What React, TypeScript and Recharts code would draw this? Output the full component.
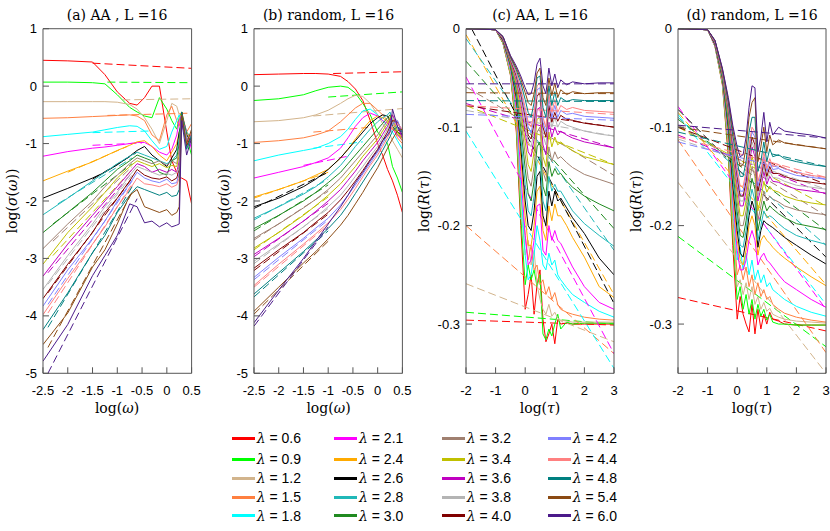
import React from "react";
import { LineChart, Line, XAxis, YAxis } from "recharts";

const LAMBDAS = ["0.6", "0.9", "1.2", "1.5", "1.8", "2.1", "2.4", "2.6", "2.8", "3.0", "3.2", "3.4", "3.6", "3.8", "4.0", "4.2", "4.4", "4.8", "5.4", "6.0"];
const COLORS = ["#ff0000", "#00ff00", "#d2b48c", "#ff8040", "#00ffff", "#ff00ff", "#ffaa00", "#000000", "#20b8b8", "#208a20", "#a08070", "#c0c000", "#c000c0", "#b4b4b4", "#800000", "#8080ff", "#ff8080", "#008080", "#8b4a13", "#4b1a8a"];

// log(omega) sample points for panels (a) and (b)
const GRID_W = [-2.5, -2, -1.5, -1.25, -1, -0.75, -0.6, -0.45, -0.3, -0.15, 0, 0.1, 0.2, 0.25, 0.3, 0.4, 0.5];
// log(tau) sample points for panels (c) and (d)
const GRID_T = [-2, -1, -0.75, -0.5, -0.3, -0.15, 0, 0.1, 0.2, 0.3, 0.4, 0.5, 0.6, 0.7, 0.8, 0.9, 1, 1.1, 1.2, 1.4, 1.6, 2, 2.5, 3];

const W_TICKS = [-2.5, -2, -1.5, -1, -0.5, 0, 0.5];
const SIGMA_TICKS = [-5, -4, -3, -2, -1, 0, 1];
const T_TICKS = [-2, -1, 0, 1, 2, 3];
const R_TICKS = [-0.3, -0.2, -0.1, 0];

// (a) AA: log(sigma) per lambda
const aSolid = [
  [0.45, 0.44, 0.42, 0.2, -0.1, -0.3, -0.33, -0.2, 0, 0, -0.8, -1.3, -1.5, -1.6, -1.6, -1.65, -2.05],
  [0.07, 0.07, 0.06, 0.04, -0.15, -0.37, -0.45, -0.52, -0.55, -0.2, -0.4, -0.6, -0.75, -0.55, -0.45, -0.9, -1.2],
  [-0.27, -0.27, -0.27, -0.27, -0.28, -0.32, -0.4, -0.55, -0.75, -1.0, -0.6, -0.3, -0.35, -0.5, -0.7, -0.9, -1.0],
  [-0.56, -0.55, -0.53, -0.52, -0.51, -0.5, -0.52, -0.6, -0.85, -0.95, -0.5, -0.35, -0.6, -0.7, -0.45, -0.8, -0.65],
  [-0.88, -0.84, -0.8, -0.76, -0.72, -0.69, -0.7, -0.78, -0.95, -1.1, -1.05, -0.8, -0.6, -0.5, -0.6, -0.9, -1.05],
  [-1.22, -1.14, -1.08, -1.06, -1.03, -1.0, -0.98, -0.98, -1.05, -1.15, -1.2, -1.1, -0.85, -0.6, -0.5, -0.8, -1.1],
  [-1.65, -1.48, -1.32, -1.22, -1.12, -1.03, -0.97, -0.95, -1.05, -1.2, -1.3, -1.15, -1.0, -0.8, -0.7, -0.8, -0.95],
  [-1.95, -1.78, -1.6, -1.5, -1.37, -1.22, -1.12, -1.05, -1.2, -1.3, -1.4, -1.25, -1.1, -0.8, -0.6, -0.85, -1.0],
  [-2.24, -1.95, -1.65, -1.5, -1.35, -1.22, -1.15, -1.2, -1.25, -1.3, -1.35, -1.3, -1.2, -0.9, -0.5, -0.8, -0.9],
  [-2.55, -2.2, -1.85, -1.65, -1.45, -1.3, -1.2, -1.25, -1.3, -1.5, -1.55, -1.3, -1.25, -1.0, -0.45, -0.85, -0.95],
  [-2.83, -2.4, -2.0, -1.75, -1.55, -1.35, -1.25, -1.3, -1.35, -1.3, -1.38, -1.3, -1.35, -1.1, -0.5, -0.9, -1.0],
  [-3.1, -2.55, -2.1, -1.85, -1.6, -1.4, -1.3, -1.35, -1.4, -1.35, -1.42, -1.38, -1.4, -1.2, -0.55, -1.0, -0.95],
  [-3.31, -2.75, -2.25, -2.0, -1.75, -1.5, -1.35, -1.4, -1.5, -1.45, -1.5, -1.45, -1.5, -1.3, -0.5, -0.95, -0.9],
  [-3.54, -2.95, -2.4, -2.1, -1.85, -1.55, -1.4, -1.45, -1.5, -1.55, -1.52, -1.55, -1.5, -1.4, -0.55, -0.9, -0.85],
  [-3.7, -3.1, -2.55, -2.2, -1.95, -1.65, -1.45, -1.55, -1.6, -1.62, -1.58, -1.65, -1.6, -1.45, -0.45, -1.05, -0.8],
  [-3.83, -3.2, -2.65, -2.35, -2.0, -1.7, -1.5, -1.6, -1.65, -1.68, -1.62, -1.7, -1.68, -1.5, -0.5, -0.95, -0.85],
  [-3.98, -3.35, -2.75, -2.45, -2.1, -1.8, -1.6, -1.7, -1.72, -1.75, -1.7, -1.76, -1.72, -1.6, -0.55, -1.0, -0.8],
  [-4.24, -3.6, -2.9, -2.6, -2.2, -1.9, -1.75, -1.8, -1.85, -1.9, -1.85, -1.92, -1.9, -1.8, -0.45, -1.1, -0.85],
  [-4.5, -3.95, -3.15, -2.85, -2.4, -1.9, -1.8, -2.1, -2.15, -2.2, -2.15, -2.25, -2.2, -2.1, -0.5, -1.0, -0.75],
  [-4.79, -4.15, -3.3, -2.95, -2.6, -2.05, -2.1, -2.38, -2.35, -2.45, -2.38, -2.45, -2.42, -2.4, -0.6, -1.2, -0.9],
];

// (a) fits: x0, y0, x1, y1
const aFit = [
  [-1.5, 0.4, 0.5, 0.31], [-1.2, 0.07, 0.5, 0.06], [-0.9, -0.24, 0.5, -0.22], [-1.2, -0.51, 0.5, -0.47],
  [-1.5, -0.81, -0.3, -0.78], [-1.5, -1.03, -0.5, -0.99], [-2.0, -1.5, -0.8, -1.05], [-1.5, -1.62, -0.6, -1.15],
  [-2.2, -2.05, -0.7, -1.25], [-2.3, -2.4, -0.7, -1.35], [-2.3, -2.7, -0.7, -1.4], [-2.3, -2.95, -0.7, -1.45],
  [-2.4, -3.25, -0.7, -1.5], [-2.4, -3.45, -0.7, -1.55], [-2.4, -3.6, -0.7, -1.6], [-2.4, -3.8, -0.7, -1.65],
  [-2.4, -3.95, -0.7, -1.7], [-2.4, -4.2, -0.7, -1.75], [-2.4, -4.55, -0.7, -1.85], [-2.4, -5.0, -0.6, -1.96],
];

// (b) random: log(sigma) per lambda
const bSolid = [
  [0.2, 0.21, 0.22, 0.22, 0.21, 0.17, 0.08, -0.05, -0.25, -0.6, -1.0, -1.2, -1.45, -1.55, -1.65, -1.9, -2.2],
  [-0.25, -0.22, -0.15, -0.08, -0.02, 0, -0.02, -0.12, -0.3, -0.5, -0.8, -0.9, -1.0, -1.2, -1.4, -1.6, -1.85],
  [-0.62, -0.6, -0.55, -0.5, -0.42, -0.3, -0.22, -0.16, -0.18, -0.3, -0.5, -0.65, -0.8, -0.85, -0.95, -1.1, -1.25],
  [-0.98, -0.95, -0.9, -0.85, -0.78, -0.62, -0.5, -0.38, -0.3, -0.3, -0.42, -0.5, -0.6, -0.65, -0.7, -0.9, -1.0],
  [-1.3, -1.2, -1.12, -1.08, -1.0, -0.88, -0.75, -0.58, -0.43, -0.4, -0.5, -0.6, -0.7, -0.75, -0.8, -0.95, -1.1],
  [-1.6, -1.5, -1.4, -1.33, -1.25, -1.08, -0.9, -0.7, -0.55, -0.47, -0.52, -0.6, -0.65, -0.7, -0.75, -0.85, -0.95],
  [-1.93, -1.8, -1.65, -1.55, -1.45, -1.25, -1.1, -0.92, -0.75, -0.6, -0.52, -0.55, -0.62, -0.7, -0.75, -0.8, -0.9],
  [-2.1, -1.95, -1.75, -1.62, -1.45, -1.25, -1.1, -0.95, -0.8, -0.65, -0.55, -0.5, -0.52, -0.6, -0.7, -0.8, -0.85],
  [-2.3, -2.1, -1.88, -1.75, -1.58, -1.38, -1.22, -1.05, -0.9, -0.75, -0.62, -0.55, -0.5, -0.45, -0.6, -0.75, -0.8],
  [-2.48, -2.25, -2.0, -1.85, -1.68, -1.5, -1.35, -1.2, -1.05, -0.9, -0.75, -0.65, -0.55, -0.5, -0.7, -0.8, -0.85],
  [-2.65, -2.4, -2.12, -1.97, -1.8, -1.6, -1.45, -1.3, -1.15, -1.0, -0.85, -0.72, -0.6, -0.55, -0.6, -0.85, -0.9],
  [-2.82, -2.55, -2.25, -2.08, -1.9, -1.7, -1.55, -1.4, -1.22, -1.07, -0.92, -0.78, -0.65, -0.55, -0.5, -0.8, -0.95],
  [-2.93, -2.65, -2.35, -2.18, -2.0, -1.8, -1.64, -1.48, -1.3, -1.14, -0.98, -0.84, -0.7, -0.6, -0.5, -0.7, -0.9],
  [-3.05, -2.75, -2.45, -2.28, -2.1, -1.9, -1.74, -1.57, -1.4, -1.22, -1.05, -0.9, -0.75, -0.65, -0.55, -0.6, -0.85],
  [-3.17, -2.85, -2.55, -2.37, -2.2, -1.98, -1.82, -1.65, -1.47, -1.28, -1.1, -0.95, -0.8, -0.7, -0.6, -0.62, -0.8],
  [-3.33, -2.98, -2.65, -2.47, -2.3, -2.07, -1.9, -1.72, -1.53, -1.34, -1.15, -1.0, -0.85, -0.75, -0.65, -0.6, -0.8],
  [-3.47, -3.1, -2.75, -2.57, -2.38, -2.15, -1.97, -1.78, -1.58, -1.38, -1.2, -1.05, -0.9, -0.8, -0.7, -0.65, -0.75],
  [-3.62, -3.25, -2.88, -2.68, -2.48, -2.25, -2.07, -1.87, -1.67, -1.47, -1.28, -1.12, -0.96, -0.88, -0.78, -0.7, -0.8],
  [-3.92, -3.5, -3.08, -2.88, -2.66, -2.42, -2.25, -2.05, -1.85, -1.63, -1.42, -1.25, -1.08, -1.0, -0.92, -0.78, -0.75],
  [-4.12, -3.55, -3.0, -2.7, -2.4, -2.1, -1.9, -1.68, -1.5, -1.3, -1.12, -0.95, -0.85, -0.8, -0.4, -0.7, -0.85],
];

const bFit = [
  [-0.9, 0.22, 0.5, 0.25], [-1.0, -0.19, 0.5, -0.1], [-1.3, -0.52, 0.5, -0.39], [-1.3, -0.8, -0.2, -0.72],
  [-1.3, -1.08, -0.3, -0.97], [-1.5, -1.38, -0.6, -1.22], [-2.5, -1.95, -1.0, -1.5], [-2.5, -2.13, -1.0, -1.5],
  [-2.5, -2.33, -1.0, -1.62], [-2.5, -2.52, -1.0, -1.72], [-2.5, -2.68, -1.0, -1.83], [-2.5, -2.85, -1.0, -1.93],
  [-2.5, -2.97, -1.0, -2.04], [-2.5, -3.09, -1.0, -2.13], [-2.5, -3.21, -1.0, -2.23], [-2.5, -3.37, -1.0, -2.33],
  [-2.5, -3.5, -1.0, -2.42], [-2.5, -3.67, -1.0, -2.52], [-2.5, -3.97, -1.0, -2.7], [-2.5, -4.18, -1.0, -2.45],
];

// (c) AA: log R(tau) per lambda
const cSolid = [
  [0, -0.001, -0.015, -0.047, -0.105, -0.2, -0.285, -0.27, -0.25, -0.29, -0.26, -0.245, -0.295, -0.318, -0.31, -0.3, -0.32, -0.295, -0.3, -0.299, -0.3, -0.3, -0.3, -0.3],
  [0, -0.001, -0.015, -0.046, -0.1, -0.19, -0.26, -0.24, -0.255, -0.245, -0.262, -0.25, -0.31, -0.316, -0.305, -0.312, -0.3, -0.29, -0.305, -0.298, -0.3, -0.299, -0.299, -0.299],
  [0, -0.001, -0.014, -0.045, -0.095, -0.18, -0.23, -0.215, -0.24, -0.225, -0.26, -0.275, -0.285, -0.29, -0.28, -0.292, -0.288, -0.294, -0.296, -0.297, -0.298, -0.298, -0.298, -0.298],
  [0, -0.001, -0.014, -0.044, -0.09, -0.17, -0.21, -0.235, -0.22, -0.245, -0.24, -0.26, -0.255, -0.27, -0.262, -0.275, -0.268, -0.28, -0.285, -0.288, -0.29, -0.293, -0.295, -0.296],
  [0, -0.001, -0.013, -0.042, -0.085, -0.16, -0.23, -0.255, -0.25, -0.23, -0.2, -0.215, -0.24, -0.245, -0.228, -0.24, -0.235, -0.25, -0.255, -0.263, -0.27, -0.278, -0.287, -0.293],
  [0, -0.001, -0.013, -0.04, -0.08, -0.145, -0.21, -0.24, -0.235, -0.215, -0.18, -0.178, -0.225, -0.23, -0.2, -0.215, -0.205, -0.215, -0.218, -0.23, -0.242, -0.262, -0.278, -0.285],
  [0, -0.001, -0.012, -0.038, -0.075, -0.13, -0.19, -0.22, -0.22, -0.2, -0.165, -0.16, -0.205, -0.215, -0.18, -0.195, -0.178, -0.19, -0.19, -0.2, -0.212, -0.232, -0.262, -0.273],
  [0, -0.001, -0.012, -0.037, -0.07, -0.12, -0.175, -0.2, -0.205, -0.185, -0.15, -0.145, -0.19, -0.2, -0.165, -0.18, -0.165, -0.175, -0.172, -0.182, -0.192, -0.208, -0.233, -0.25],
  [0, -0.001, -0.011, -0.036, -0.066, -0.11, -0.158, -0.185, -0.19, -0.17, -0.135, -0.13, -0.175, -0.185, -0.15, -0.165, -0.158, -0.165, -0.165, -0.175, -0.185, -0.198, -0.21, -0.221],
  [0, -0.001, -0.011, -0.035, -0.062, -0.1, -0.142, -0.168, -0.175, -0.155, -0.12, -0.115, -0.16, -0.17, -0.135, -0.15, -0.142, -0.148, -0.147, -0.155, -0.161, -0.17, -0.178, -0.185],
  [0, -0.001, -0.01, -0.034, -0.058, -0.09, -0.128, -0.152, -0.16, -0.14, -0.105, -0.1, -0.145, -0.155, -0.12, -0.135, -0.125, -0.132, -0.13, -0.136, -0.141, -0.148, -0.153, -0.158],
  [0, -0.001, -0.01, -0.033, -0.055, -0.082, -0.115, -0.138, -0.145, -0.125, -0.092, -0.09, -0.13, -0.14, -0.105, -0.12, -0.11, -0.118, -0.115, -0.12, -0.124, -0.13, -0.134, -0.138],
  [0, -0.001, -0.01, -0.032, -0.052, -0.075, -0.105, -0.125, -0.13, -0.112, -0.082, -0.08, -0.118, -0.128, -0.095, -0.11, -0.1, -0.108, -0.104, -0.108, -0.111, -0.115, -0.118, -0.121],
  [0, -0.001, -0.009, -0.031, -0.05, -0.07, -0.097, -0.115, -0.12, -0.104, -0.075, -0.072, -0.108, -0.118, -0.085, -0.1, -0.09, -0.1, -0.094, -0.098, -0.1, -0.104, -0.107, -0.109],
  [0, -0.001, -0.009, -0.031, -0.048, -0.066, -0.09, -0.108, -0.112, -0.096, -0.068, -0.066, -0.1, -0.11, -0.078, -0.095, -0.085, -0.094, -0.088, -0.092, -0.093, -0.096, -0.098, -0.1],
  [0, -0.001, -0.009, -0.03, -0.046, -0.063, -0.085, -0.1, -0.106, -0.09, -0.062, -0.06, -0.095, -0.105, -0.07, -0.09, -0.078, -0.09, -0.083, -0.087, -0.086, -0.089, -0.09, -0.091],
  [0, -0.001, -0.009, -0.03, -0.045, -0.06, -0.08, -0.095, -0.1, -0.085, -0.058, -0.055, -0.09, -0.1, -0.066, -0.085, -0.072, -0.085, -0.078, -0.082, -0.08, -0.083, -0.084, -0.085],
  [0, -0.001, -0.008, -0.029, -0.042, -0.055, -0.072, -0.085, -0.09, -0.075, -0.05, -0.048, -0.08, -0.09, -0.058, -0.078, -0.064, -0.078, -0.07, -0.074, -0.072, -0.073, -0.073, -0.073],
  [0, -0.001, -0.008, -0.028, -0.04, -0.051, -0.065, -0.075, -0.078, -0.066, -0.045, -0.04, -0.07, -0.078, -0.05, -0.068, -0.055, -0.07, -0.062, -0.067, -0.064, -0.066, -0.065, -0.065],
  [0, -0.001, -0.008, -0.027, -0.038, -0.048, -0.06, -0.067, -0.066, -0.055, -0.036, -0.03, -0.058, -0.066, -0.04, -0.058, -0.046, -0.06, -0.052, -0.057, -0.054, -0.056, -0.055, -0.055],
];

// (c) fits: value at log(tau) = -2 and at 3
const cFit = [
  [-0.296, -0.301], [-0.288, -0.3], [-0.259, -0.318], [-0.2, -0.33], [-0.104, -0.345], [-0.049, -0.33], [-0.006, -0.27],
  [0.011, -0.279], [-0.01, -0.225], [-0.033, -0.203], [-0.059, -0.149], [-0.078, -0.138], [-0.076, -0.121], [-0.083, -0.109],
  [-0.078, -0.1], [-0.087, -0.093], [-0.078, -0.087], [-0.073, -0.074], [-0.065, -0.066], [-0.056, -0.056],
];

// (d) random: log R(tau) per lambda
const dSolid = [
  [0, -0.001, -0.018, -0.057, -0.13, -0.22, -0.295, -0.272, -0.29, -0.3, -0.308, -0.28, -0.31, -0.285, -0.305, -0.29, -0.3, -0.288, -0.295, -0.297, -0.3, -0.301, -0.301, -0.301],
  [0, -0.001, -0.018, -0.056, -0.125, -0.21, -0.275, -0.262, -0.285, -0.27, -0.29, -0.275, -0.295, -0.28, -0.292, -0.285, -0.296, -0.29, -0.298, -0.3, -0.3, -0.301, -0.301, -0.301],
  [0, -0.001, -0.018, -0.055, -0.12, -0.2, -0.262, -0.255, -0.27, -0.258, -0.275, -0.262, -0.28, -0.272, -0.285, -0.278, -0.287, -0.284, -0.29, -0.293, -0.295, -0.297, -0.298, -0.299],
  [0, -0.001, -0.017, -0.054, -0.116, -0.19, -0.25, -0.24, -0.255, -0.242, -0.262, -0.25, -0.27, -0.258, -0.272, -0.265, -0.275, -0.272, -0.28, -0.285, -0.289, -0.293, -0.296, -0.298],
  [0, -0.001, -0.017, -0.053, -0.112, -0.18, -0.235, -0.222, -0.245, -0.228, -0.25, -0.235, -0.255, -0.245, -0.258, -0.25, -0.262, -0.258, -0.265, -0.27, -0.275, -0.282, -0.288, -0.292],
  [0, -0.001, -0.017, -0.052, -0.108, -0.172, -0.225, -0.245, -0.245, -0.235, -0.215, -0.205, -0.215, -0.24, -0.232, -0.228, -0.235, -0.238, -0.242, -0.25, -0.257, -0.265, -0.275, -0.283],
  [0, -0.001, -0.016, -0.051, -0.104, -0.165, -0.215, -0.235, -0.24, -0.225, -0.2, -0.19, -0.2, -0.23, -0.215, -0.21, -0.215, -0.218, -0.222, -0.228, -0.233, -0.242, -0.252, -0.261],
  [0, -0.001, -0.016, -0.05, -0.1, -0.158, -0.205, -0.228, -0.232, -0.215, -0.19, -0.175, -0.185, -0.222, -0.205, -0.195, -0.198, -0.2, -0.202, -0.207, -0.212, -0.22, -0.23, -0.239],
  [0, -0.001, -0.015, -0.049, -0.096, -0.15, -0.195, -0.22, -0.222, -0.205, -0.18, -0.163, -0.175, -0.215, -0.2, -0.185, -0.192, -0.19, -0.192, -0.198, -0.203, -0.21, -0.215, -0.219],
  [0, -0.001, -0.015, -0.048, -0.092, -0.142, -0.186, -0.21, -0.212, -0.195, -0.17, -0.152, -0.163, -0.205, -0.19, -0.175, -0.185, -0.18, -0.183, -0.188, -0.192, -0.198, -0.201, -0.204],
  [0, -0.001, -0.014, -0.047, -0.089, -0.136, -0.176, -0.2, -0.2, -0.185, -0.158, -0.14, -0.15, -0.195, -0.18, -0.165, -0.175, -0.17, -0.173, -0.176, -0.18, -0.184, -0.187, -0.189],
  [0, -0.001, -0.014, -0.046, -0.086, -0.13, -0.168, -0.19, -0.19, -0.175, -0.148, -0.13, -0.14, -0.185, -0.172, -0.155, -0.166, -0.16, -0.164, -0.166, -0.17, -0.174, -0.177, -0.179],
  [0, -0.001, -0.014, -0.045, -0.083, -0.125, -0.16, -0.18, -0.18, -0.165, -0.138, -0.12, -0.13, -0.175, -0.162, -0.145, -0.158, -0.15, -0.155, -0.156, -0.159, -0.163, -0.165, -0.167],
  [0, -0.001, -0.013, -0.044, -0.081, -0.121, -0.155, -0.175, -0.175, -0.16, -0.133, -0.115, -0.124, -0.17, -0.157, -0.14, -0.154, -0.145, -0.151, -0.152, -0.155, -0.159, -0.161, -0.163],
  [0, -0.001, -0.013, -0.044, -0.08, -0.118, -0.15, -0.17, -0.17, -0.155, -0.128, -0.11, -0.118, -0.165, -0.152, -0.135, -0.15, -0.14, -0.147, -0.147, -0.15, -0.154, -0.156, -0.158],
  [0, -0.001, -0.013, -0.043, -0.078, -0.115, -0.146, -0.165, -0.165, -0.15, -0.122, -0.105, -0.11, -0.16, -0.148, -0.13, -0.145, -0.136, -0.143, -0.142, -0.145, -0.149, -0.151, -0.153],
  [0, -0.001, -0.013, -0.043, -0.077, -0.112, -0.142, -0.16, -0.16, -0.145, -0.118, -0.1, -0.105, -0.155, -0.145, -0.125, -0.142, -0.132, -0.14, -0.138, -0.142, -0.146, -0.149, -0.151],
  [0, -0.001, -0.012, -0.042, -0.075, -0.108, -0.135, -0.15, -0.15, -0.135, -0.105, -0.09, -0.09, -0.145, -0.135, -0.115, -0.135, -0.122, -0.13, -0.128, -0.132, -0.135, -0.138, -0.14],
  [0, -0.001, -0.012, -0.041, -0.072, -0.102, -0.127, -0.14, -0.138, -0.12, -0.09, -0.075, -0.07, -0.135, -0.12, -0.1, -0.125, -0.108, -0.118, -0.113, -0.116, -0.118, -0.12, -0.122],
  [0, -0.001, -0.012, -0.04, -0.07, -0.098, -0.12, -0.13, -0.128, -0.11, -0.08, -0.058, -0.06, -0.125, -0.11, -0.085, -0.115, -0.095, -0.108, -0.1, -0.104, -0.106, -0.108, -0.111],
];

const dFit = [
  [-0.273, -0.307], [-0.211, -0.323], [-0.156, -0.35], [-0.113, -0.329], [-0.087, -0.28], [-0.079, -0.285], [-0.085, -0.26],
  [-0.082, -0.232], [-0.09, -0.22], [-0.092, -0.205], [-0.098, -0.19], [-0.1, -0.18], [-0.108, -0.168], [-0.112, -0.163],
  [-0.1, -0.158], [-0.115, -0.153], [-0.11, -0.151], [-0.105, -0.14], [-0.1, -0.122], [-0.098, -0.111],
];

const TOP = 28.7;
const BOTTOM = 373.3;
const H = 400;
const PAD_L = 46;
const PAD_R = 14;
const BOX = "#555";
const tickFont = { fontSize: 13, fill: "#000", fontFamily: '"Liberation Sans", Arial, sans-serif' };
const serif = '"DejaVu Serif", "Liberation Serif", serif';

type Fit = { x0: number; y0: number; x1: number; y1: number };

function Panel({
  left, right, xDomain, xTicks, yDomain, yTicks, grid, solid, fits
}: {
  left: number; right: number; xDomain: [number, number]; xTicks: number[];
  yDomain: [number, number]; yTicks: number[]; grid: number[]; solid: number[][]; fits: Fit[];
}) {
  const width = right - left + PAD_L + PAD_R;
  const lines = solid.flatMap((ys, i) => [
    <Line key={"s" + i} xAxisId="b" yAxisId="l" type="linear" data={grid.map((x, j) => ({ x, y: ys[j] }))} dataKey="y"
      stroke={COLORS[i]} strokeWidth={1} dot={false} activeDot={false} isAnimationActive={false} />,
    <Line key={"f" + i} xAxisId="b" yAxisId="l" type="linear" data={[{ x: fits[i].x0, y: fits[i].y0 }, { x: fits[i].x1, y: fits[i].y1 }]}
      dataKey="y" stroke={COLORS[i]} strokeWidth={1} strokeDasharray="8 4" dot={false} activeDot={false} isAnimationActive={false} />,
  ]);
  return (
    <div style={{ position: "absolute", left: left - PAD_L, top: 0 }}>
      <LineChart width={width} height={H} margin={{ top: TOP - 1, right: PAD_R - 1, bottom: H - BOTTOM - 25, left: PAD_L - 40 }}>
        <XAxis xAxisId="b" type="number" dataKey="x" domain={xDomain} ticks={xTicks} interval={0} allowDataOverflow height={25}
          tickSize={-6} tickMargin={18} tick={tickFont} stroke={BOX} />
        <XAxis xAxisId="t" orientation="top" type="number" dataKey="x" domain={xDomain} ticks={xTicks} interval={0} allowDataOverflow height={1}
          tickSize={-6} tick={false} stroke={BOX} />
        <YAxis yAxisId="l" type="number" domain={yDomain} ticks={yTicks} interval={0} allowDataOverflow width={40}
          tickSize={-6} tickMargin={12} tick={tickFont} stroke={BOX} />
        <YAxis yAxisId="r" orientation="right" type="number" domain={yDomain} ticks={yTicks} interval={0} allowDataOverflow width={1}
          tickSize={-6} tick={false} stroke={BOX} />
        {lines}
      </LineChart>
    </div>
  );
}

const wFits = (rows: number[][]): Fit[] => rows.map(([x0, y0, x1, y1]) => ({ x0, y0, x1, y1 }));
const tFits = (rows: number[][]): Fit[] => rows.map(([y0, y1]) => ({ x0: -2, y0, x1: 3, y1 }));

function Text({ x, y, rotate, children }: { x: number; y: number; rotate?: boolean; children: React.ReactNode }) {
  return (
    <div style={{
      position: "absolute", left: x, top: y, transform: `translate(-50%, -50%)${rotate ? " rotate(-90deg)" : ""}`,
      fontFamily: serif, fontSize: 14, whiteSpace: "nowrap", lineHeight: 1, color: "#000"
    }}>{children}</div>
  );
}

const SIGMA_LABEL = <>log(<i>σ</i>(<i>ω</i>))</>;
const R_LABEL = <>log(<i>R</i>(<i>τ</i>))</>;

const LEG_X = [231.7, 334, 441.7, 547.7];
const LEG_Y = [438.3, 459.3, 478.3, 497.3, 515.9];

export default function App() {
  return (
    <div style={{ position: "fixed", left: 0, top: 0, width: 830, height: 531, background: "#fff", overflow: "hidden" }}>
      <Panel left={42.7} right={191.3} xDomain={[-2.5, 0.5]} xTicks={W_TICKS} yDomain={[-5, 1]} yTicks={SIGMA_TICKS}
        grid={GRID_W} solid={aSolid} fits={wFits(aFit)} />
      <Panel left={254.3} right={402.7} xDomain={[-2.5, 0.5]} xTicks={W_TICKS} yDomain={[-5, 1]} yTicks={SIGMA_TICKS}
        grid={GRID_W} solid={bSolid} fits={wFits(bFit)} />
      <Panel left={466} right={614} xDomain={[-2, 3]} xTicks={T_TICKS} yDomain={[-0.35, 0]} yTicks={R_TICKS}
        grid={GRID_T} solid={cSolid} fits={tFits(cFit)} />
      <Panel left={678} right={826} xDomain={[-2, 3]} xTicks={T_TICKS} yDomain={[-0.35, 0]} yTicks={R_TICKS}
        grid={GRID_T} solid={dSolid} fits={tFits(dFit)} />

      <Text x={117} y={15}>(a) AA , L =16</Text>
      <Text x={328.5} y={15}>(b) random, L =16</Text>
      <Text x={540} y={15}>(c) AA, L =16</Text>
      <Text x={752} y={15}>(d) random, L =16</Text>

      <Text x={117} y={408}>log(<i>ω</i>)</Text>
      <Text x={328.5} y={408}>log(<i>ω</i>)</Text>
      <Text x={540} y={408}>log(<i>τ</i>)</Text>
      <Text x={752} y={408}>log(<i>τ</i>)</Text>

      <Text x={12} y={201} rotate>{SIGMA_LABEL}</Text>
      <Text x={224} y={201} rotate>{SIGMA_LABEL}</Text>
      <Text x={424} y={201} rotate>{R_LABEL}</Text>
      <Text x={636} y={201} rotate>{R_LABEL}</Text>

      {LAMBDAS.map((lam, i) => {
        const x = LEG_X[Math.floor(i / 5)];
        const y = LEG_Y[i % 5];
        return (
          <React.Fragment key={lam}>
            <div style={{ position: "absolute", left: x, top: y - 1.5, width: 23, height: 3, background: COLORS[i] }} />
            <div style={{
              position: "absolute", left: x + 25, top: y - 8, fontSize: 14, lineHeight: "16px", whiteSpace: "nowrap",
              fontFamily: '"Liberation Sans", Arial, sans-serif', color: "#000"
            }}>
              <i style={{ fontFamily: serif }}>λ</i> = {lam}
            </div>
          </React.Fragment>
        );
      })}
    </div>
  );
}
